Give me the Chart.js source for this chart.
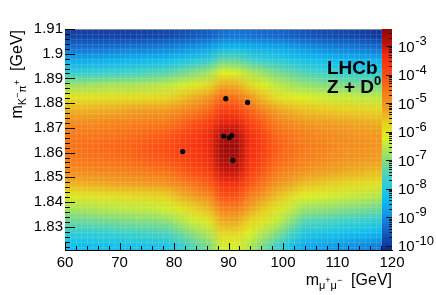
<!DOCTYPE html>
<html>
<head>
<meta charset="utf-8">
<script src="https://cdn.jsdelivr.net/npm/chart.js@4.4.0/dist/chart.umd.min.js"></script>
<style>
  html, body { margin: 0; padding: 0; background: #fff; }
</style>
</head>
<body>
<canvas id="c" width="436" height="295"></canvas>
<script>
// dimuon mass bin centres [GeV]
const massBins = [61.25, 63.75, 66.25, 68.75, 71.25, 73.75, 76.25, 78.75, 81.25, 83.75, 86.25, 88.75,
                  91.25, 93.75, 96.25, 98.75, 101.25, 103.75, 106.25, 108.75, 111.25, 113.75, 116.25, 118.75];
// K pi mass bin centres [GeV], top row first
const kpiBins = [1.9075, 1.9025, 1.8975, 1.8925, 1.8875, 1.8825, 1.8775, 1.8725, 1.8675,
                 1.8625, 1.8575, 1.8525, 1.8475, 1.8425, 1.8375, 1.8325, 1.8275, 1.8225];
// log10 of the density, one list per mass column (top row first)
const logDensity = [
  [-9.9,-9.3,-8.6,-7.8,-6.8,-6.0,-5.4,-4.9,-4.6,-4.5,-4.6,-4.9,-5.4,-6.1,-6.7,-7.2,-7.8,-8.3],
  [-9.9,-9.3,-8.6,-7.8,-6.8,-6.0,-5.4,-4.9,-4.6,-4.45,-4.55,-4.85,-5.35,-6.05,-6.65,-7.2,-7.8,-8.3],
  [-9.9,-9.3,-8.55,-7.75,-6.75,-5.95,-5.35,-4.85,-4.55,-4.4,-4.5,-4.8,-5.3,-6.0,-6.6,-7.15,-7.75,-8.25],
  [-9.9,-9.25,-8.5,-7.7,-6.7,-5.95,-5.3,-4.8,-4.5,-4.35,-4.45,-4.75,-5.25,-5.95,-6.55,-7.1,-7.7,-8.25],
  [-9.9,-9.2,-8.45,-7.65,-6.7,-5.9,-5.25,-4.75,-4.45,-4.3,-4.4,-4.7,-5.2,-5.9,-6.5,-7.05,-7.65,-8.2],
  [-9.85,-9.2,-8.4,-7.6,-6.65,-5.9,-5.2,-4.7,-4.4,-4.2,-4.3,-4.65,-5.15,-5.85,-6.45,-7.0,-7.6,-8.2],
  [-9.85,-9.15,-8.35,-7.5,-6.6,-5.85,-5.15,-4.65,-4.3,-4.1,-4.2,-4.55,-5.1,-5.8,-6.4,-7.0,-7.55,-8.15],
  [-9.8,-9.1,-8.3,-7.4,-6.5,-5.8,-5.1,-4.6,-4.2,-4.0,-4.1,-4.5,-5.0,-5.7,-6.3,-6.9,-7.5,-8.1],
  [-9.7,-9.0,-8.15,-7.2,-6.3,-5.55,-4.9,-4.35,-3.95,-3.8,-3.9,-4.25,-4.75,-5.4,-6.0,-6.6,-7.2,-7.75],
  [-9.6,-8.9,-8.0,-7.0,-6.1,-5.3,-4.7,-4.1,-3.7,-3.55,-3.65,-4.0,-4.5,-5.1,-5.7,-6.3,-6.9,-7.4],
  [-9.5,-8.75,-7.8,-6.8,-5.85,-5.05,-4.4,-3.8,-3.4,-3.3,-3.4,-3.75,-4.25,-4.85,-5.45,-6.05,-6.6,-7.1],
  [-9.3,-8.4,-7.3,-6.2,-5.3,-4.4,-3.8,-3.2,-2.8,-2.6,-2.7,-3.0,-3.5,-4.1,-4.7,-5.3,-5.8,-6.3],
  [-9.25,-8.35,-7.3,-6.25,-5.35,-4.5,-3.85,-3.2,-2.75,-2.55,-2.65,-2.95,-3.45,-4.05,-4.65,-5.25,-5.8,-6.25],
  [-9.3,-8.5,-7.6,-6.6,-5.8,-5.0,-4.3,-3.8,-3.4,-3.3,-3.4,-3.7,-4.1,-4.6,-5.2,-5.7,-6.2,-6.6],
  [-9.35,-8.55,-7.75,-6.85,-6.15,-5.5,-4.75,-4.25,-3.9,-3.75,-3.85,-4.15,-4.55,-5.05,-5.6,-6.05,-6.6,-7.1],
  [-9.4,-8.6,-7.9,-7.1,-6.5,-5.95,-5.2,-4.7,-4.35,-4.2,-4.3,-4.6,-5.0,-5.5,-6.0,-6.4,-7.0,-7.6],
  [-9.5,-8.75,-8.05,-7.3,-6.7,-6.1,-5.4,-4.9,-4.55,-4.45,-4.5,-4.8,-5.25,-5.85,-6.4,-6.9,-7.5,-8.1],
  [-9.6,-8.9,-8.2,-7.5,-6.85,-6.2,-5.55,-5.05,-4.7,-4.6,-4.7,-5.0,-5.5,-6.2,-6.8,-7.4,-8.0,-8.6],
  [-9.7,-9.0,-8.3,-7.6,-6.95,-6.3,-5.6,-5.15,-4.8,-4.7,-4.8,-5.1,-5.6,-6.25,-6.85,-7.5,-8.1,-8.7],
  [-9.75,-9.1,-8.35,-7.7,-7.0,-6.35,-5.65,-5.2,-4.9,-4.8,-4.9,-5.2,-5.7,-6.3,-6.9,-7.55,-8.15,-8.8],
  [-9.8,-9.15,-8.4,-7.75,-7.05,-6.4,-5.7,-5.25,-4.95,-4.9,-5.0,-5.3,-5.8,-6.4,-7.0,-7.65,-8.25,-8.9],
  [-9.85,-9.2,-8.45,-7.8,-7.1,-6.45,-5.75,-5.3,-5.0,-4.95,-5.05,-5.35,-5.85,-6.45,-7.05,-7.7,-8.3,-9.0],
  [-9.95,-9.3,-8.5,-7.9,-7.1,-6.5,-5.8,-5.35,-5.05,-5.0,-5.1,-5.45,-5.95,-6.55,-7.15,-7.8,-8.4,-9.1],
  [-10.0,-9.35,-8.55,-7.95,-7.15,-6.5,-5.8,-5.4,-5.1,-5.05,-5.2,-5.5,-6.0,-6.6,-7.2,-7.85,-8.45,-9.15]
];
// Z + D0 candidates
const candMass = [89.5, 93.5, 89.1, 90.1, 90.6, 81.6, 90.8];
const candKpi = [1.8818, 1.8803, 1.8667, 1.8660, 1.8669, 1.8604, 1.8569];

const xTicks = [60, 70, 80, 90, 100, 110, 120];
const yTicks = [1.83, 1.84, 1.85, 1.86, 1.87, 1.88, 1.89, 1.9, 1.91];
const zDecades = [-10, -9, -8, -7, -6, -5, -4, -3];
const zLogRange = [-10.15, -2.40];

// ROOT-like rainbow palette, keyed on log10(density)
const palette = [
  [-10.15, [12, 42, 136]], [-9.9, [18, 64, 164]], [-9.4, [22, 102, 204]], [-8.9, [16, 152, 232]],
  [-8.3, [16, 192, 240]], [-7.7, [56, 208, 208]], [-7.2, [108, 216, 152]], [-6.7, [168, 228, 88]],
  [-6.2, [220, 240, 32]], [-5.7, [232, 208, 32]], [-5.2, [240, 160, 32]], [-4.6, [248, 122, 26]],
  [-4.0, [255, 74, 18]], [-3.3, [242, 42, 14]], [-2.9, [192, 16, 12]], [-2.4, [139, 10, 10]]
];

function paletteRgb(v) {
  if (v <= palette[0][0]) return palette[0][1];
  for (let i = 1; i < palette.length; i++) {
    if (v <= palette[i][0]) {
      const [v0, c0] = palette[i - 1], [v1, c1] = palette[i];
      const f = (v - v0) / (v1 - v0);
      return c0.map((c, k) => Math.round(c + (c1[k] - c) * f));
    }
  }
  return palette[palette.length - 1][1];
}

const FONT = "'Liberation Sans', Arial, sans-serif";

// draws text pieces [text, size, dy, bold] one after another from (x, y)
function richText(ctx, parts, x, y) {
  let cx = x;
  parts.forEach(([t, size, dy, bold]) => {
    ctx.font = (bold ? 'bold ' : '') + size + 'px ' + FONT;
    ctx.fillText(t, cx, y + dy);
    cx += ctx.measureText(t).width;
  });
  return cx - x;
}
function richWidth(ctx, parts) {
  let w = 0;
  parts.forEach(([t, size, dy, bold]) => {
    ctx.font = (bold ? 'bold ' : '') + size + 'px ' + FONT;
    w += ctx.measureText(t).width;
  });
  return w;
}

const heatPlugin = {
  id: 'heat',
  beforeDatasetsDraw(chart) {
    const { ctx, chartArea: a, scales: { x, y } } = chart;
    const cols = massBins.length, rows = kpiBins.length;
    const off = document.createElement('canvas');
    off.width = cols; off.height = rows;
    const octx = off.getContext('2d');
    const img = octx.createImageData(cols, rows);
    for (let c = 0; c < cols; c++) {
      for (let r = 0; r < rows; r++) {
        const rgb = paletteRgb(logDensity[c][r]);
        const p = (r * cols + c) * 4;
        img.data[p] = rgb[0]; img.data[p + 1] = rgb[1]; img.data[p + 2] = rgb[2]; img.data[p + 3] = 255;
      }
    }
    octx.putImageData(img, 0, 0);

    const hx = (massBins[1] - massBins[0]) / 2, hy = (kpiBins[0] - kpiBins[1]) / 2;
    const left = x.getPixelForValue(massBins[0] - hx);
    const right = x.getPixelForValue(massBins[cols - 1] + hx);
    const top = y.getPixelForValue(kpiBins[0] + hy);
    const bottom = y.getPixelForValue(kpiBins[rows - 1] - hy);

    ctx.save();
    ctx.beginPath();
    ctx.rect(a.left, a.top, a.right - a.left, a.bottom - a.top);
    ctx.clip();
    ctx.imageSmoothingEnabled = true;
    ctx.drawImage(off, left, top, right - left, bottom - top);

    // faint outlines of the fine histogram cells
    ctx.strokeStyle = 'rgba(255,255,255,0.10)';
    ctx.lineWidth = 1;
    ctx.beginPath();
    for (let m = 61; m < 120; m++) {
      const px = Math.round(x.getPixelForValue(m)) + 0.5;
      ctx.moveTo(px, a.top); ctx.lineTo(px, a.bottom);
    }
    for (let k = 1; k < 46; k++) {
      const py = Math.round(y.getPixelForValue(1.91 - k * 0.002)) + 0.5;
      ctx.moveTo(a.left, py); ctx.lineTo(a.right, py);
    }
    ctx.stroke();
    ctx.restore();
  },
  afterDatasetsDraw(chart) {
    const { ctx, chartArea: a, scales: { x, y, z } } = chart;
    ctx.save();

    // colour bar over the right edge of the frame
    const cbR = a.right, cbL = a.right - 10;
    for (let py = Math.floor(a.top); py < a.bottom; py++) {
      const v = Math.log10(z.getValueForPixel(py + 0.5));
      const rgb = paletteRgb(v);
      ctx.fillStyle = `rgb(${rgb[0]},${rgb[1]},${rgb[2]})`;
      ctx.fillRect(cbL, py, cbR - cbL, 1);
    }
    ctx.strokeStyle = '#111';
    ctx.lineWidth = 1;
    ctx.beginPath();
    zDecades.forEach(k => {
      for (let m = 1; m <= 9; m++) {
        const val = m * Math.pow(10, k);
        if (Math.log10(val) > zLogRange[1]) break;
        const py = Math.round(z.getPixelForValue(val)) + 0.5;
        const len = m === 1 ? 6 : 3;
        ctx.moveTo(cbR, py); ctx.lineTo(cbR - len, py);
      }
    });
    ctx.stroke();

    // frame top line
    ctx.strokeStyle = '#8c8c8c';
    ctx.beginPath();
    ctx.moveTo(a.left, Math.round(a.top) + 0.5); ctx.lineTo(cbL, Math.round(a.top) + 0.5);
    ctx.stroke();

    // inward ticks
    ctx.strokeStyle = '#000';
    ctx.beginPath();
    for (let k = 0; k <= 30; k++) {
      const m = 60 + 2 * k;
      const px = Math.round(x.getPixelForValue(m)) + 0.5;
      if (px > cbL) continue;
      const len = m % 10 === 0 ? 7 : 4;
      ctx.moveTo(px, a.bottom); ctx.lineTo(px, a.bottom - len);
    }
    for (let k = 0; k <= 44; k++) {
      const val = 1.91 - k * 0.002;
      const py = Math.round(y.getPixelForValue(val)) + 0.5;
      const len = k % 5 === 0 ? 10 : 5;
      ctx.moveTo(a.left, py); ctx.lineTo(a.left + len, py);
    }
    ctx.stroke();

    ctx.fillStyle = '#000';
    ctx.textBaseline = 'alphabetic';
    ctx.textAlign = 'left';

    // colour bar labels
    zDecades.forEach(k => {
      const py = z.getPixelForValue(Math.pow(10, k));
      ctx.font = '15px ' + FONT;
      ctx.fillText('10', 398, py + 5.5);
      const w = ctx.measureText('10').width;
      ctx.font = '13px ' + FONT;
      ctx.fillText(String(k), 398 + w + 0.5, py - 1);
    });

    // LHCb label
    ctx.font = 'bold 19px ' + FONT;
    ctx.fillText('LHCb', 327, 74);
    richText(ctx, [['Z + D', 19, 0, true], ['0', 13, -8, true]], 327, 93);

    // x title, right aligned to the axis end
    const xt = [['m', 16, 0], ['\u03bc', 11, 4], ['+', 9, -2], ['\u03bc', 11, 4], ['\u2212', 9, -2],
                ['  ', 16, 0], ['[GeV]', 16, 0]];
    richText(ctx, xt, a.right - richWidth(ctx, xt), 285);

    // y title, rotated, right aligned to the axis top
    const yt = [['m', 16, 0], ['K', 11, 4], ['\u2212', 9, -2], ['\u03c0', 11, 4], ['+', 9, -2],
                ['  ', 16, 0], ['[GeV]', 16, 0]];
    const yw = richWidth(ctx, yt);
    ctx.translate(22, a.top + 1 + yw);
    ctx.rotate(-Math.PI / 2);
    richText(ctx, yt, 0, 0);
    ctx.restore();
  }
};

new Chart(document.getElementById('c'), {
  type: 'scatter',
  data: {
    datasets: [{
      data: candMass.map((m, i) => ({ x: m, y: candKpi[i] })),
      backgroundColor: '#000',
      borderColor: '#000',
      borderWidth: 0,
      pointRadius: 2.6,
      pointHoverRadius: 2.6
    }]
  },
  options: {
    responsive: false,
    animation: false,
    events: [],
    layout: { padding: { top: 29, right: 44, left: 0, bottom: 0 } },
    plugins: { legend: { display: false }, tooltip: { enabled: false } },
    scales: {
      x: {
        type: 'linear', min: 60, max: 120,
        afterFit: s => { s.height = 45; },
        afterBuildTicks: s => { s.ticks = xTicks.map(v => ({ value: v })); },
        grid: { display: false, drawTicks: false },
        border: { display: true, color: '#000', width: 1 },
        ticks: {
          autoSkip: false, maxRotation: 0, padding: 4, color: '#000',
          font: { family: FONT, size: 15 },
          callback: v => String(v)
        }
      },
      y: {
        type: 'linear', min: 1.8206, max: 1.91,
        afterFit: s => { s.width = 65; },
        afterBuildTicks: s => { s.ticks = yTicks.map(v => ({ value: v })); },
        grid: { display: false, drawTicks: false },
        border: { display: true, color: '#000', width: 1 },
        ticks: {
          autoSkip: false, padding: 2, color: '#000',
          font: { family: FONT, size: 15 },
          callback: v => String(+v.toFixed(3))
        }
      },
      z: {
        type: 'logarithmic', display: false, position: 'right',
        min: Math.pow(10, zLogRange[0]), max: Math.pow(10, zLogRange[1])
      }
    }
  },
  plugins: [heatPlugin]
});
</script>
</body>
</html>
